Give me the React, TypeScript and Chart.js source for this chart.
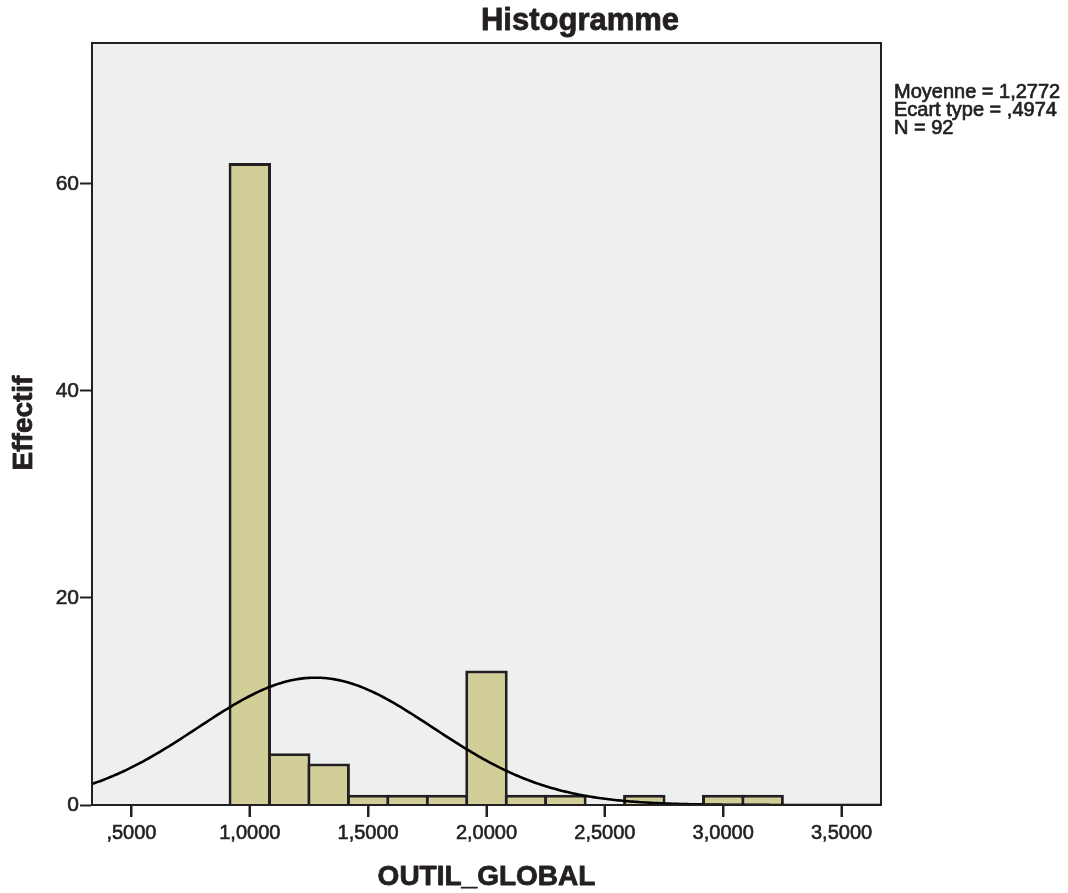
import React, { useEffect, useRef } from "react";
import { Chart, registerables } from "chart.js";

Chart.register(...registerables);

const TITLE = "Histogramme";
const X_TITLE = "OUTIL_GLOBAL";
const Y_TITLE = "Effectif";
const BIN_CENTERS = [1.0, 1.1667, 1.3333, 1.5, 1.6667, 1.8333, 2.0, 2.1667, 2.3333, 2.5, 2.6667, 2.8333, 3.0, 3.1667];
const COUNTS = [62, 5, 4, 1, 1, 1, 13, 1, 1, 0, 1, 0, 1, 1];
const BIN_WIDTH = 1 / 6;
const X_TICKS = [0.5, 1.0, 1.5, 2.0, 2.5, 3.0, 3.5];
const Y_TICKS = [0, 20, 40, 60];
const MEAN = 1.2772;
const SD = 0.4974;
const N = 92;
const STATS_LINES = ["Moyenne = 1,2772", "Ecart type = ,4974", "N = 92"];
const X_MIN = 1 / 3;
const X_MAX = 11 / 3;
const Y_MAX = 73.6;

const FONT = "'Liberation Sans', Arial, sans-serif";
const DARK = "#231f20";
const BAR_FILL = "#d2ce97";
const BG = "#eef0ef";

function fmtFr(v: number): string {
  const s = v.toFixed(4).replace(".", ",");
  return s.startsWith("0,") ? s.slice(1) : s;
}

function normalCurve() {
  const pts: { x: number; y: number }[] = [];
  const steps = 400;
  for (let i = 0; i <= steps; i++) {
    const x = X_MIN + ((X_MAX - X_MIN) * i) / steps;
    const z = (x - MEAN) / SD;
    const y = (N * BIN_WIDTH * Math.exp(-0.5 * z * z)) / (SD * Math.sqrt(2 * Math.PI));
    pts.push({ x, y });
  }
  return pts;
}

function strokeFill(ctx: CanvasRenderingContext2D, t: string, x: number, y: number, w: number) {
  ctx.lineWidth = w;
  ctx.lineJoin = "round";
  ctx.strokeText(t, x, y);
  ctx.fillText(t, x, y);
}

const decorPlugin = {
  id: "decor",
  beforeDraw(chart: any) {
    const { ctx, chartArea: a } = chart;
    ctx.save();
    ctx.fillStyle = BG;
    ctx.fillRect(a.left, a.top, a.right - a.left, a.bottom - a.top);
    ctx.restore();
  },
  afterDraw(chart: any) {
    const { ctx, chartArea: a } = chart;
    const xs = chart.scales.x;
    ctx.save();
    ctx.strokeStyle = DARK;
    ctx.lineWidth = 2;
    ctx.strokeRect(a.left, a.top, a.right - a.left, a.bottom - a.top);

    ctx.beginPath();
    X_TICKS.forEach((v) => {
      const px = Math.round(xs.getPixelForValue(v));
      ctx.moveTo(px, a.bottom);
      ctx.lineTo(px, a.bottom + 12);
    });
    ctx.stroke();

    ctx.fillStyle = DARK;
    ctx.strokeStyle = DARK;
    ctx.textAlign = "center";
    ctx.textBaseline = "middle";
    ctx.font = `bold 31px ${FONT}`;
    strokeFill(ctx, TITLE, 580, 21, 0.8);

    ctx.font = `bold 28px ${FONT}`;
    strokeFill(ctx, X_TITLE, (a.left + a.right) / 2, 877, 0.8);

    ctx.save();
    ctx.translate(24, 423);
    ctx.rotate(-Math.PI / 2);
    strokeFill(ctx, Y_TITLE, 0, 0, 0.8);
    ctx.restore();

    ctx.textAlign = "left";
    ctx.font = `20px ${FONT}`;
    STATS_LINES.forEach((t, i) => strokeFill(ctx, t, 894, 92 + i * 18, 0.7));
    ctx.restore();
  },
};

export default function App() {
  const ref = useRef<HTMLCanvasElement | null>(null);

  useEffect(() => {
    document.body.style.margin = "0";
    if (!ref.current) return;
    const barData = BIN_CENTERS.map((x, i) => ({ x, y: COUNTS[i] }));
    const chart = new Chart(ref.current, {
      type: "bar",
      data: {
        datasets: [
          {
            type: "line",
            data: normalCurve(),
            borderColor: "#000",
            borderWidth: 2.6,
            pointRadius: 0,
            tension: 0,
            order: 0,
          } as any,
          {
            type: "bar",
            data: barData,
            backgroundColor: BAR_FILL,
            borderColor: DARK,
            borderWidth: 3,
            borderSkipped: "start",
            barPercentage: 1.076,
            categoryPercentage: 1,
            order: 1,
          } as any,
        ],
      },
      options: {
        responsive: false,
        animation: false,
        layout: { padding: { left: 0, top: 43, right: 187, bottom: 0 } },
        plugins: { legend: { display: false }, tooltip: { enabled: false } },
        scales: {
          x: {
            type: "linear",
            min: X_MIN,
            max: X_MAX,
            offset: false,
            afterBuildTicks: (s: any) => {
              s.ticks = X_TICKS.map((v) => ({ value: v }));
            },
            afterFit: (s: any) => {
              s.height = 88;
            },
            grid: {
              display: true,
              offset: false,
              drawOnChartArea: false,
              drawTicks: true,
              tickLength: 12,
              tickColor: DARK,
              tickWidth: 2,
            },
            border: { display: true, color: DARK, width: 2 },
            ticks: {
              color: DARK,
              font: { family: FONT, size: 20 },
              textStrokeColor: DARK,
              textStrokeWidth: 0.6,
              padding: 4,
              maxRotation: 0,
              autoSkip: false,
              callback: (v: any) => fmtFr(Number(v)),
            },
          },
          y: {
            type: "linear",
            min: 0,
            max: Y_MAX,
            afterBuildTicks: (s: any) => {
              s.ticks = Y_TICKS.map((v) => ({ value: v }));
            },
            afterFit: (s: any) => {
              s.width = 92;
            },
            grid: {
              display: true,
              drawOnChartArea: false,
              drawTicks: true,
              tickLength: 12,
              tickColor: DARK,
              tickWidth: 2,
            },
            border: { display: true, color: DARK, width: 2 },
            ticks: {
              color: DARK,
              font: { family: FONT, size: 21 },
              textStrokeColor: DARK,
              textStrokeWidth: 0.6,
              padding: 1,
              autoSkip: false,
              callback: (v: any) => String(v),
            },
          },
        },
      },
      plugins: [decorPlugin],
    });
    return () => chart.destroy();
  }, []);

  return <canvas ref={ref} width={1068} height={893} style={{ display: "block" }} />;
}
